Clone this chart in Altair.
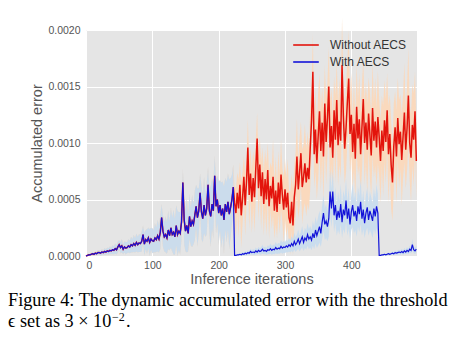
import altair as alt
import pandas as pd

# ---- data (values in units of 1e-4), sampled every 2 iterations ----
iters = list(range(0, 500, 2))

# shared part (iterations 0..222) : both methods identical
shared = [0.0, 0.05, 0.1, 0.1, 0.15, 0.2, 0.15, 0.25, 0.2, 0.3, 0.3,
          0.25, 0.35, 0.3, 0.4, 0.35, 0.45, 0.4, 0.5, 0.45, 0.55,
          0.5, 0.65, 0.55, 0.8, 1.0, 0.75, 0.9, 0.6, 0.8, 0.7,
          0.75, 0.9, 0.8, 1.0, 0.9, 1.1, 0.95, 1.2, 1.0, 1.15,
          1.1, 1.3, 1.9, 1.05, 1.45, 1.3, 1.6, 1.2, 1.5, 1.35,
          1.3, 1.6, 1.45, 1.8, 1.5, 2.1, 3.4, 2.2, 1.7, 1.9,
          1.6, 2.3, 1.8, 2.5, 1.9, 2.1, 1.7, 2.7, 1.9, 2.2,
          2.0, 3.0, 6.5, 3.2, 2.2, 2.7, 2.0, 3.5, 2.6, 3.1,
          2.8, 3.6, 4.4, 3.4, 4.0, 5.6, 3.9, 3.3, 4.5, 3.6,
          4.2, 6.3, 4.0, 3.5, 4.6, 4.0, 7.1, 4.4, 5.0, 3.8,
          4.5, 3.6, 4.2, 3.2, 4.6, 3.9, 4.8, 3.7, 4.3, 5.0, 6.1]
shared_hw = [0.0, 0.05, 0.1, 0.1, 0.1, 0.15, 0.1, 0.15, 0.15, 0.2, 0.2,
             0.2, 0.25, 0.2, 0.3, 0.25, 0.3, 0.3, 0.35, 0.3, 0.4,
             0.35, 0.45, 0.4, 0.5, 0.4, 0.5, 0.6, 0.45, 0.5, 0.55,
             0.5, 0.6, 0.55, 0.7, 0.6, 0.75, 0.65, 0.8, 0.7, 0.8,
             0.75, 0.9, 0.8, 1.0, 0.85, 1.1, 0.9, 1.2, 1.0, 1.1,
             1.0, 1.3, 1.1, 1.4, 1.2, 1.5, 1.2, 1.4, 1.3, 1.6,
             1.4, 1.7, 1.3, 1.8, 1.5, 2.0, 1.6, 1.8, 2.1, 1.7,
             1.9, 1.5, 1.2, 2.2, 1.8, 2.4, 1.6, 2.0, 1.7, 2.3,
             1.8, 2.2, 1.9, 2.6, 2.0, 1.7, 2.4, 2.1, 2.5, 1.9,
             2.3, 1.6, 2.0, 2.7, 2.2, 2.5, 1.8, 2.4, 2.1, 2.8,
             2.2, 2.9, 2.4, 3.0, 2.3, 2.7, 2.5, 3.1, 2.6, 2.2, 2.0]

# Without AECS, iterations 224..498
red_tail = [4.7, 3.8, 5.6, 4.2, 6.3, 3.6, 5.1, 7.0, 4.5, 6.6, 9.6, 5.4, 7.3, 4.8, 6.9, 5.2, 7.8, 10.4, 6.0,
            8.1, 5.3, 7.4, 4.6, 6.8, 5.0, 7.6, 4.4, 6.2, 5.1, 7.0, 4.0, 5.8, 3.9, 6.5, 4.6, 7.2, 5.4, 4.1, 5.9,
            4.3, 5.6, 3.4, 2.9, 4.8, 2.7, 5.2, 6.3, 8.8, 5.9, 7.4, 9.1, 6.1, 7.0, 8.2, 6.5, 7.8, 6.8, 9.5, 12.0,
            16.3, 9.0, 11.2, 8.2, 10.6, 12.8, 9.3, 11.8, 8.8, 13.5, 10.1, 12.2, 15.0, 9.6, 11.5, 8.7, 12.9, 10.3, 13.8, 9.8,
            11.9, 10.2, 16.9, 12.4, 9.5, 11.3, 13.6, 15.7, 10.8, 12.5, 9.2, 11.7, 8.6, 13.2, 10.4, 12.1, 9.0, 11.4, 13.9, 10.0,
            11.8, 9.4, 12.6, 10.7, 8.9, 13.1, 10.2, 11.9, 9.6, 12.3, 10.5, 8.4, 11.1, 9.3, 12.0, 10.1, 12.9, 9.0, 10.8, 8.1,
            6.5, 9.7, 11.4, 8.8, 12.2, 9.9, 11.0, 8.5, 10.6, 12.7, 9.4, 11.3, 14.2, 10.0, 8.7, 11.6, 10.3, 12.8, 8.4]
red_tail_hw = [1.5, 2.2, 1.8, 2.6, 2.0, 2.9, 2.3, 1.9, 2.7, 2.1, 2.5, 3.0, 2.2, 2.8, 2.4, 3.1, 2.6, 2.3, 2.9,
               2.5, 3.0, 2.2, 2.8, 2.6, 3.2, 2.4, 2.9, 2.1, 2.7, 3.3, 2.5, 3.0, 2.3, 2.8, 2.6, 3.1, 2.4, 2.9, 2.7,
               2.6, 3.0, 2.4, 2.8, 2.5, 3.2, 2.7, 2.9, 3.4, 2.6, 3.1, 2.8, 3.3, 2.9, 3.5, 3.0, 3.2, 2.8, 3.6, 3.1,
               3.4, 3.0, 3.7, 3.2, 3.9, 3.3, 3.6, 3.1, 4.0, 3.4, 3.8, 3.2, 3.5, 4.1, 3.3, 3.7, 3.0, 3.9, 3.4, 3.6,
               3.8, 3.3, 4.2, 3.5, 3.1, 3.9, 3.6, 4.3, 3.4, 3.7, 3.2, 4.0, 3.5, 3.8, 3.3, 4.1, 3.6, 3.9, 3.4, 3.7,
               3.5, 4.0, 3.2, 3.8, 3.6, 4.2, 3.3, 3.9, 3.5, 4.1, 3.4, 3.7, 3.1, 4.0, 3.6, 3.8, 3.3, 4.3, 3.5, 3.9,
               3.4, 3.8, 3.2, 4.1, 3.6, 3.9, 3.3, 4.0, 3.7, 4.4, 3.5, 3.8, 4.2, 3.4, 3.9, 3.6, 4.1, 3.5, 3.3]

# With AECS, iterations 224..498
blue_tail = [0.05, 0.05, 0.1, 0.1, 0.15, 0.1, 0.2, 0.15, 0.25, 0.2, 0.3, 0.25, 0.4, 0.3, 0.35, 0.3, 0.45, 0.35, 0.5, 0.4,
             0.45, 0.6, 0.45, 0.5, 0.4, 0.55, 0.5, 0.65, 0.5, 0.6, 0.55, 0.75, 0.6, 0.7, 0.65, 0.85, 0.7, 0.8, 0.75,
             0.9, 0.8, 1.0, 0.85, 1.1, 0.9, 1.3, 1.0, 1.2, 1.5, 1.1, 1.4, 1.7, 1.2, 1.6, 1.4, 1.9, 1.5, 1.7, 1.4,
             2.0, 1.6, 2.3, 1.8, 2.2, 2.6, 2.0, 3.0, 3.8, 2.8, 3.1, 2.6, 3.3, 5.7, 4.2, 5.7, 3.6, 4.5, 3.2, 4.0,
             3.4, 4.6, 3.0, 4.1, 3.6, 4.9, 3.3, 4.2, 2.8, 3.9, 4.5, 3.5, 4.0, 3.1, 4.4, 3.7, 4.8, 3.3, 4.1, 2.9,
             3.8, 4.3, 3.2, 4.0, 3.6, 3.1, 4.2, 3.5, 4.4,
             3.8,
             0.05, 0.05, 0.1, 0.1, 0.15, 0.1, 0.15, 0.2, 0.15, 0.2, 0.25, 0.2, 0.3, 0.25, 0.3, 0.35, 0.3, 0.4, 0.3,
             0.45, 0.35, 0.5, 0.4, 0.6, 0.5, 1.0, 0.55, 0.45, 0.6]
blue_tail_hw = [0.05, 0.05, 0.08, 0.1, 0.1, 0.12, 0.15, 0.12, 0.18, 0.15, 0.2, 0.18, 0.25, 0.2, 0.25, 0.22, 0.3, 0.25, 0.3, 0.28,
                0.32, 0.4, 0.3, 0.35, 0.3, 0.4, 0.35, 0.45, 0.38, 0.42, 0.4, 0.5, 0.42, 0.48, 0.45, 0.55, 0.5, 0.52, 0.5,
                0.55, 0.5, 0.6, 0.55, 0.65, 0.6, 0.75, 0.65, 0.7, 0.85, 0.7, 0.8, 0.95, 0.75, 0.9, 0.85, 1.0, 0.9, 0.95, 0.9,
                1.1, 1.0, 1.2, 1.1, 1.3, 1.4, 1.2, 1.5, 1.6, 1.4, 1.5, 1.3, 1.6, 1.9, 1.7, 1.8, 1.5, 1.6, 1.4, 1.7,
                1.5, 1.8, 1.4, 1.7, 1.6, 1.9, 1.5, 1.8, 1.3, 1.6, 1.9, 1.5, 1.7, 1.4, 1.8, 1.6, 2.0, 1.5, 1.7, 1.3,
                1.6, 1.8, 1.4, 1.7, 1.6, 1.5, 1.8, 1.6, 1.9,
                1.7,
                0.05, 0.05, 0.08, 0.08, 0.1, 0.08, 0.1, 0.12, 0.1, 0.12, 0.15, 0.12, 0.18, 0.15, 0.18, 0.2, 0.18, 0.22, 0.18,
                0.25, 0.2, 0.28, 0.25, 0.3, 0.28, 0.5, 0.3, 0.28, 0.32]

series_names = ["Without AECS", "With AECS"]
line_colors = ["#e3140c", "#1212d8"]
band_colors = ["#fbd8bb", "#c8dcee"]
x_ticks = [0, 100, 200, 300, 400]
y_ticks = [0.0, 0.0005, 0.0010, 0.0015, 0.0020]
caption1 = "Figure 4: The dynamic accumulated error with the threshold"
caption2 = "\u03f5 set as 3 \u00d7 10"
caption_sup = "\u22122"

UNIT = 1e-4
red = shared + red_tail
blue = shared + blue_tail
red_hw = shared_hw + red_tail_hw
blue_hw = shared_hw + blue_tail_hw
for arr in (red, blue, red_hw, blue_hw):
    assert len(arr) == len(iters), len(arr)

rows = []
for name, vals, hws in [(series_names[0], red, red_hw), (series_names[1], blue, blue_hw)]:
    for it, v, h in zip(iters, vals, hws):
        rows.append({"iter": it, "value": v * UNIT, "lo": max(0.0, v - h) * UNIT,
                     "hi": (v + h) * UNIT, "series": name})
df = pd.DataFrame(rows)

xscale = alt.Scale(domain=[0, 499], nice=False, zero=False)
yscale = alt.Scale(domain=[0, 0.002], nice=False)
xaxis = alt.Axis(values=x_ticks, title="Inference iterations", format="d")
yaxis = alt.Axis(values=y_ticks, title="Accumulated error", format=".4f")

base = alt.Chart(df)

def band(name, color):
    return base.transform_filter(alt.datum.series == name).mark_area(
        color=color, opacity=0.95, interpolate="linear"
    ).encode(
        x=alt.X("iter:Q", scale=xscale, axis=xaxis),
        y=alt.Y("lo:Q", scale=yscale, axis=yaxis),
        y2="hi:Q",
    )

color_enc = alt.Color(
    "series:N",
    scale=alt.Scale(domain=series_names, range=line_colors),
    legend=alt.Legend(
        title=None, orient="none", legendX=211, legendY=6,
        symbolType="M-1.6,0L1.6,0", symbolSize=256, symbolStrokeWidth=1.6,
        labelFontSize=12, labelFont="Liberation Sans", labelColor="#333333",
        labelOffset=15, rowPadding=2, padding=0,
    ),
)

def line(name, width):
    return base.transform_filter(alt.datum.series == name).mark_line(
        strokeWidth=width
    ).encode(
        x=alt.X("iter:Q", scale=xscale, axis=xaxis),
        y=alt.Y("value:Q", scale=yscale, axis=yaxis),
        color=color_enc,
    )

cap_df1 = pd.DataFrame({"t": [caption1]})
cap_df2 = pd.DataFrame({"t": [caption2]})
cap_df3 = pd.DataFrame({"t": [caption_sup]})
cap_df4 = pd.DataFrame({"t": ["."]})

def cap(d, x, y, size):
    return alt.Chart(d).mark_text(
        align="left", baseline="alphabetic", font="Liberation Serif",
        fontSize=size, color="#000000"
    ).encode(text="t:N", x=alt.value(x), y=alt.value(y))

chart = alt.layer(
    band(series_names[0], band_colors[0]),
    band(series_names[1], band_colors[1]),
    line(series_names[0], 1.5),
    line(series_names[1], 1.2),
    cap(cap_df1, -78, 276, 18.25),
    cap(cap_df2, -78, 297, 18.25),
    cap(cap_df3, 26, 290.5, 12),
    cap(cap_df4, 40, 297, 18.25),
).properties(
    width=331, height=226,
    autosize=alt.AutoSizeParams(type="none"),
    padding={"left": 86, "top": 30, "right": 49, "bottom": 90},
).configure_view(
    fill="#e5e5e5", strokeWidth=0
).configure_axis(
    grid=True, gridColor="#ffffff", gridWidth=1, domain=False, ticks=False,
    labelFont="Liberation Sans", labelFontSize=10.5, labelColor="#555555",
    titleFont="Liberation Sans", titleFontSize=14.5, titleColor="#555555",
    titleFontWeight="normal",
).configure_axisX(
    labelPadding=4, titlePadding=2
).configure_axisY(
    labelPadding=6, titlePadding=3
)

chart.save("out.html", embed_options={"renderer": "svg", "actions": False})
